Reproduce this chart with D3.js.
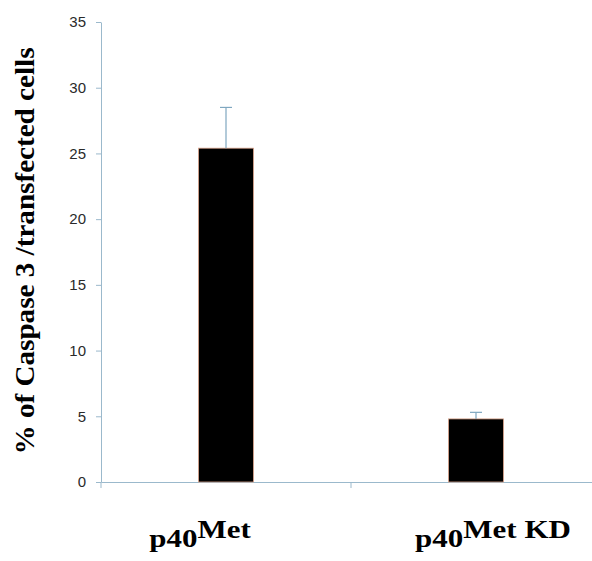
<!DOCTYPE html>
<html>
<head>
<meta charset="utf-8">
<script src="https://cdn.jsdelivr.net/npm/d3@7"></script>
<style>
  body { margin: 0; background: #fff; }
  svg { display: block; }
</style>
</head>
<body>
<div id="chart"></div>
<script>
// values
const categories = ["p40", "p40 KD"];
const superscripts = ["Met", "Met KD"];
const values = [25.4, 4.8];
const errors = [3.1, 0.5];
const yTicks = [0, 5, 10, 15, 20, 25, 30, 35];
const yLabel = "% of Caspase 3 /transfected cells";

const width = 592, height = 561;
const margin = { top: 22, right: -9, bottom: 79, left: 101 };
const axisColor = "#9bb9cc";

const svg = d3.select("#chart").append("svg")
    .attr("width", width)
    .attr("height", height);

const x = d3.scaleBand()
    .domain(categories)
    .range([margin.left, width - margin.right])
    .padding(0);

const y = d3.scaleLinear()
    .domain([0, 35])
    .range([height - margin.bottom, margin.top]);

const barWidth = 55;

// y axis
const yAxis = svg.append("g")
    .attr("transform", `translate(${margin.left},0)`)
    .call(d3.axisLeft(y).tickValues(yTicks).tickSize(5).tickSizeOuter(0).tickPadding(10));
yAxis.selectAll("path, line").attr("stroke", axisColor);
yAxis.selectAll("text")
    .attr("font-family", "Liberation Sans, Arial, sans-serif")
    .attr("font-size", 15)
    .attr("fill", "#2a2a2a");

// x axis: line across, tick at the origin and between the groups
const xAxis = svg.append("g")
    .attr("transform", `translate(0,${y(0)})`)
    .call(d3.axisBottom(x).tickValues([]).tickSizeOuter(0));
xAxis.select("path").attr("stroke", axisColor);
xAxis.selectAll("line.sep")
    .data([categories[0], categories[1]])
    .join("line")
    .attr("class", "sep")
    .attr("x1", d => x(d)).attr("x2", d => x(d))
    .attr("y1", 0).attr("y2", 6)
    .attr("stroke", axisColor);

// bars
svg.append("g").selectAll("rect")
    .data(values)
    .join("rect")
    .attr("x", (d, i) => x(categories[i]) + x.bandwidth() / 2 - barWidth / 2)
    .attr("y", d => y(d))
    .attr("width", barWidth)
    .attr("height", d => y(0) - y(d))
    .attr("fill", "#000")
    .attr("stroke", "#dca58c")
    .attr("stroke-width", 0.8);

// error bars (upper only)
const err = svg.append("g").attr("stroke", "#7fa7c0").attr("stroke-width", 1.2);
values.forEach((v, i) => {
    const cx = x(categories[i]) + x.bandwidth() / 2;
    err.append("line")
        .attr("x1", cx).attr("x2", cx)
        .attr("y1", y(v)).attr("y2", y(v + errors[i]));
    err.append("line")
        .attr("x1", cx - 6).attr("x2", cx + 6)
        .attr("y1", y(v + errors[i])).attr("y2", y(v + errors[i]));
});

// category labels
const labelShift = [-26, 17];
categories.forEach((c, i) => {
    const cx = x(c) + x.bandwidth() / 2 + labelShift[i];
    const t = svg.append("g")
        .attr("transform", `translate(${cx},547) scale(1.24,1)`)
        .append("text")
        .attr("text-anchor", "middle")
        .attr("font-family", "Liberation Serif, Times New Roman, serif")
        .attr("font-weight", "bold")
        .attr("font-size", 25)
        .attr("fill", "#000");
    t.append("tspan").text(c.split(" ")[0]);
    t.append("tspan").attr("dy", -9).text(superscripts[i]);
});

// y axis title
svg.append("text")
    .attr("transform", "translate(34,251) rotate(-90)")
    .attr("text-anchor", "middle")
    .attr("font-family", "Liberation Serif, Times New Roman, serif")
    .attr("font-weight", "bold")
    .attr("font-size", 28)
    .attr("textLength", 407)
    .attr("lengthAdjust", "spacingAndGlyphs")
    .attr("fill", "#000")
    .text(yLabel);
</script>
</body>
</html>
